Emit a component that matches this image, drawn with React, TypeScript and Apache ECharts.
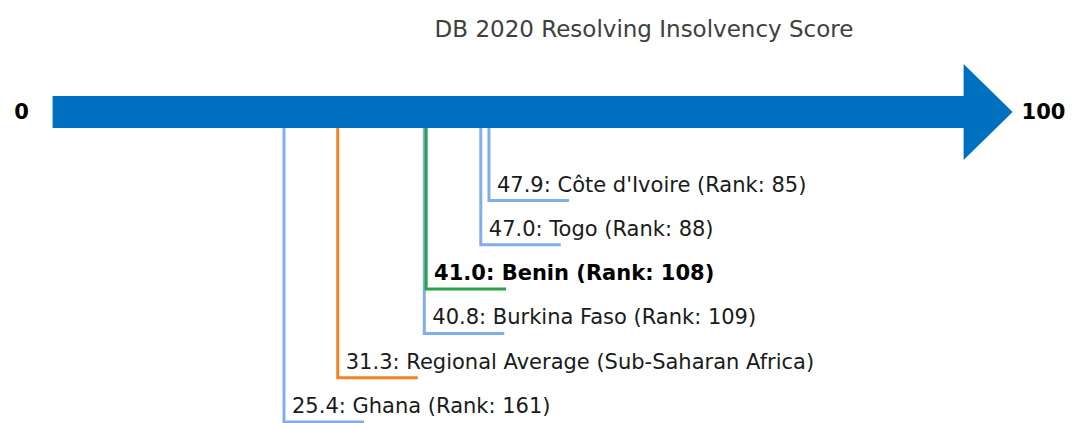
import React, { useEffect, useRef } from "react";
import * as echarts from "echarts";

const titleText = "DB 2020 Resolving Insolvency Score";
const scaleLabels = ["0", "100"];
const scaleRange = [0, 100];
const economies = [
  "Côte d'Ivoire (Rank: 85)",
  "Togo (Rank: 88)",
  "Benin (Rank: 108)",
  "Burkina Faso (Rank: 109)",
  "Regional Average (Sub-Saharan Africa)",
  "Ghana (Rank: 161)",
];
const scores = [47.9, 47.0, 41.0, 40.8, 31.3, 25.4];
const kinds = ["peer", "peer", "focus", "peer", "region", "peer"];

const kindColor: Record<string, string> = {
  peer: "#7FAEEA",
  focus: "#2CA048",
  region: "#F58220",
};

export default function App() {
  const ref = useRef<HTMLDivElement>(null);
  useEffect(() => {
    if (!ref.current) return;
    const chart = echarts.init(ref.current, null, { renderer: "svg" });
    const font = "'DejaVu Sans', sans-serif";
    const barTop = 96;
    const barBottom = 128;
    const firstLevel = 200.5;
    const levelStep = 44.3;
    const leaderData = scores.map((s, i) => [s, i]);
    const order = leaderData.slice().reverse();

    chart.setOption({
      animation: false,
      title: {
        text: titleText,
        left: 639,
        textAlign: "center",
        top: 12,
        textStyle: { fontFamily: font, fontSize: 23, fontWeight: "normal", color: "#404040" },
      },
      grid: { left: 52.6, right: 108.4, top: 0, bottom: 0 },
      xAxis: { type: "value", min: scaleRange[0], max: scaleRange[1], show: false },
      yAxis: { type: "value", min: 0, max: 1, show: false },
      series: [
        {
          type: "custom",
          data: [[scaleRange[0], scaleRange[1]]],
          renderItem: (params: any, api: any) => {
            const x0 = api.coord([api.value(0), 0])[0];
            const x1 = api.coord([api.value(1), 0])[0];
            const mid = (barTop + barBottom) / 2;
            return {
              type: "group",
              children: [
                {
                  type: "polygon",
                  shape: {
                    points: [
                      [x0, barTop],
                      [x1, barTop],
                      [x1, 64],
                      [x1 + 49, mid],
                      [x1, 160],
                      [x1, barBottom],
                      [x0, barBottom],
                    ],
                  },
                  style: { fill: "#0070C0" },
                },
                {
                  type: "text",
                  x: x0 - 31,
                  y: mid,
                  style: {
                    text: scaleLabels[0],
                    fontFamily: font,
                    fontSize: 21,
                    fontWeight: "bold",
                    fill: "#000",
                    align: "center",
                    verticalAlign: "middle",
                  },
                },
                {
                  type: "text",
                  x: x1 + 58,
                  y: mid,
                  style: {
                    text: scaleLabels[1],
                    fontFamily: font,
                    fontSize: 21,
                    fontWeight: "bold",
                    fill: "#000",
                    align: "left",
                    verticalAlign: "middle",
                  },
                },
              ],
            };
          },
        },
        {
          type: "custom",
          data: order,
          renderItem: (params: any, api: any) => {
            const v = api.value(0);
            const idx = api.value(1);
            const x = api.coord([v, 0])[0];
            const y = firstLevel + idx * levelStep;
            const kind = kinds[idx];
            const color = kindColor[kind];
            return {
              type: "group",
              children: [
                {
                  type: "polyline",
                  shape: { points: [[x, barBottom], [x, y], [x + 80, y]] },
                  style: { stroke: color, lineWidth: 3, fill: "none" },
                },
                {
                  type: "text",
                  x: x + 8,
                  y: y - 16,
                  style: {
                    text: `${v.toFixed(1)}: ${economies[idx]}`,
                    fontFamily: font,
                    fontSize: 21,
                    fontWeight: kind === "focus" ? "bold" : "normal",
                    fill: kind === "focus" ? "#000" : "#1a1a1a",
                    align: "left",
                    verticalAlign: "middle",
                  },
                },
              ],
            };
          },
        },
      ],
    });
    return () => chart.dispose();
  }, []);
  return (
    <div
      ref={ref}
      style={{ position: "fixed", left: 0, top: 0, width: 1072, height: 423, background: "#fff" }}
    />
  );
}
